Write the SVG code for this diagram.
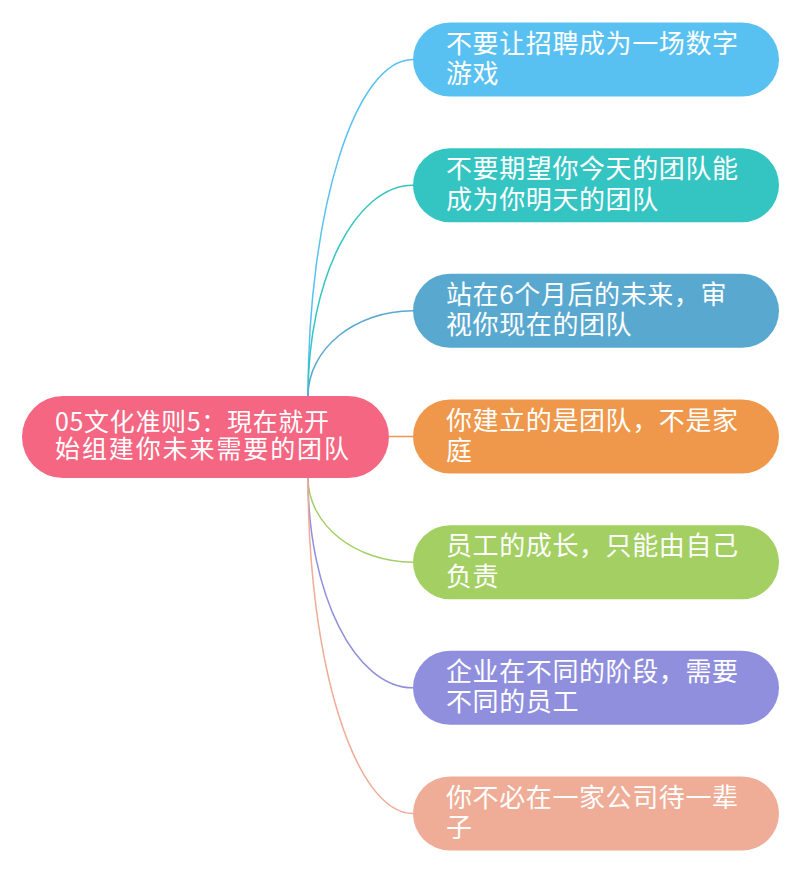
<svg xmlns="http://www.w3.org/2000/svg" width="800" height="873" viewBox="0 0 800 873">
<style>
.t{font-family:"Noto Sans CJK SC","Noto Sans",sans-serif;fill:#ffffff;font-size:26px;letter-spacing:0.6px}
.rt{font-size:25px;letter-spacing:0}
.c{fill:none;stroke-width:1.5}
</style>
<rect width="800" height="873" fill="#ffffff"/>
<g id="connectors">
<path class="c" stroke="#58c1f2" d="M308 396 C308 210.3 355 59.5 413 59.5"/>
<path class="c" stroke="#34c5c3" d="M308 396 C308 279.6 355 185.2 413 185.2"/>
<path class="c" stroke="#58a8d0" d="M308 396 C308 349 355 310.8 413 310.8"/>
<path class="c" stroke="#ef974a" d="M389 436.5 L413 436.5"/>
<path class="c" stroke="#a3cf63" d="M308 478 C308 524.5 355 562.2 413 562.2"/>
<path class="c" stroke="#908fde" d="M308 478 C308 593.8 355 687.8 413 687.8"/>
<path class="c" stroke="#efac96" d="M308 478 C308 663.2 355 813.5 413 813.5"/>
</g>
<g id="root">
<rect x="22" y="396" width="367" height="82" rx="41" fill="#f46681"/>
<text class="t rt" x="55" y="431" textLength="274" lengthAdjust="spacing">05文化准则5：現在就开</text>
<text class="t rt" x="55" y="458" textLength="294" lengthAdjust="spacing">始组建你未来需要的团队</text>
</g>
<g id="n1">
<rect x="413" y="22.5" width="366" height="74" rx="37" fill="#58c1f2"/>
<text class="t" x="446" y="52.5">不要让招聘成为一场数字</text>
<text class="t" x="446" y="83">游戏</text>
</g>
<g id="n2">
<rect x="413" y="148.2" width="366" height="74" rx="37" fill="#34c5c3"/>
<text class="t" x="446" y="178.2">不要期望你今天的团队能</text>
<text class="t" x="446" y="208.7">成为你明天的团队</text>
</g>
<g id="n3">
<rect x="413" y="273.8" width="366" height="74" rx="37" fill="#58a8d0"/>
<text class="t" x="446" y="303.8">站在6个月后的未来，审</text>
<text class="t" x="446" y="334.3">视你现在的团队</text>
</g>
<g id="n4">
<rect x="413" y="399.5" width="366" height="74" rx="37" fill="#ef974a"/>
<text class="t" x="446" y="429.5">你建立的是团队，不是家</text>
<text class="t" x="446" y="460">庭</text>
</g>
<g id="n5">
<rect x="413" y="525.2" width="366" height="74" rx="37" fill="#a3cf63"/>
<text class="t" x="446" y="555.2">员工的成长，只能由自己</text>
<text class="t" x="446" y="585.7">负责</text>
</g>
<g id="n6">
<rect x="413" y="650.8" width="366" height="74" rx="37" fill="#908fde"/>
<text class="t" x="446" y="680.8">企业在不同的阶段，需要</text>
<text class="t" x="446" y="711.3">不同的员工</text>
</g>
<g id="n7">
<rect x="413" y="776.5" width="366" height="74" rx="37" fill="#efac96"/>
<text class="t" x="446" y="806.5">你不必在一家公司待一辈</text>
<text class="t" x="446" y="837">子</text>
</g>
</svg>
